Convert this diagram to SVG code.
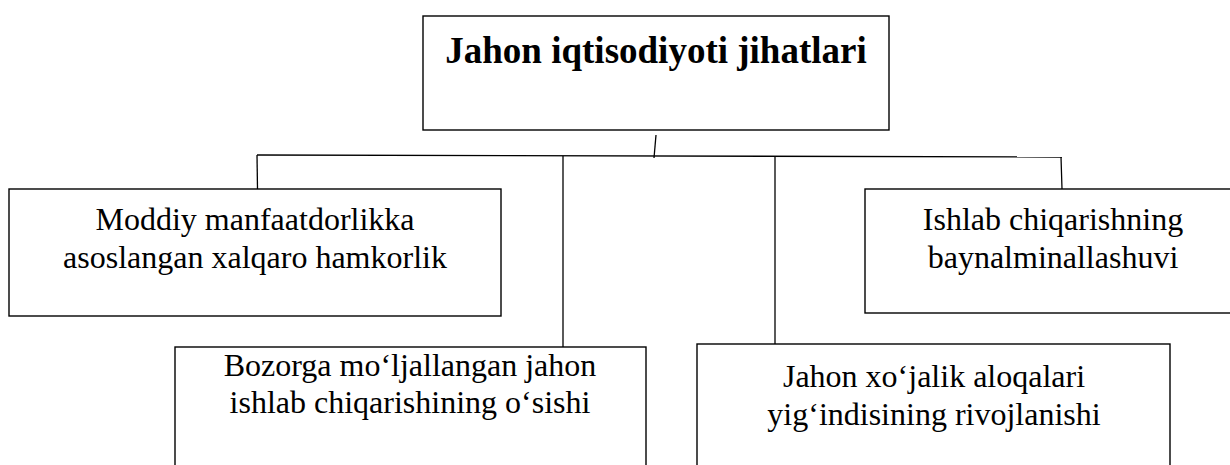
<svg xmlns="http://www.w3.org/2000/svg" width="1230" height="465" viewBox="0 0 1230 465">
<style>
.box{fill:#fff;stroke:#000;stroke-width:1.4}
.ln{fill:none;stroke:#000;stroke-width:1.3}
.t{font-family:"Liberation Serif","Times New Roman",serif;font-size:32px;fill:#000;text-anchor:middle}
.h{font-family:"Liberation Serif","Times New Roman",serif;font-size:37px;font-weight:bold;fill:#000;text-anchor:middle}
</style>
<rect width="1230" height="465" fill="#fff"/>
<g id="connectors">
<line class="ln" x1="656" y1="135" x2="654" y2="158"/>
<line class="ln" x1="257" y1="155" x2="1062" y2="157"/>
<line class="ln" x1="257" y1="155" x2="257.5" y2="189"/>
<line class="ln" x1="563" y1="156" x2="563" y2="347"/>
<line class="ln" x1="775" y1="156" x2="775" y2="344"/>
<line class="ln" x1="1061" y1="157" x2="1062" y2="189"/>
</g>
<g id="top">
<rect class="box" x="423" y="16" width="466" height="114"/>
<text class="h" x="656" y="63">Jahon iqtisodiyoti jihatlari</text>
</g>
<g id="left">
<rect class="box" x="9" y="189" width="492" height="127"/>
<text class="t" x="255" y="230">Moddiy manfaatdorlikka</text>
<text class="t" x="255" y="268">asoslangan xalqaro hamkorlik</text>
</g>
<g id="right">
<rect class="box" x="865" y="189" width="376" height="124"/>
<text class="t" x="1053" y="230">Ishlab chiqarishning</text>
<text class="t" x="1053" y="268">baynalminallashuvi</text>
</g>
<g id="bottom-left">
<rect class="box" x="175" y="347" width="471" height="140"/>
<text class="t" x="410" y="376">Bozorga mo‘ljallangan jahon</text>
<text class="t" x="410" y="413">ishlab chiqarishining o‘sishi</text>
</g>
<g id="bottom-right">
<rect class="box" x="697" y="344" width="473" height="140"/>
<text class="t" x="934" y="387">Jahon xo‘jalik aloqalari</text>
<text class="t" x="934" y="425">yig‘indisining rivojlanishi</text>
</g>
</svg>
